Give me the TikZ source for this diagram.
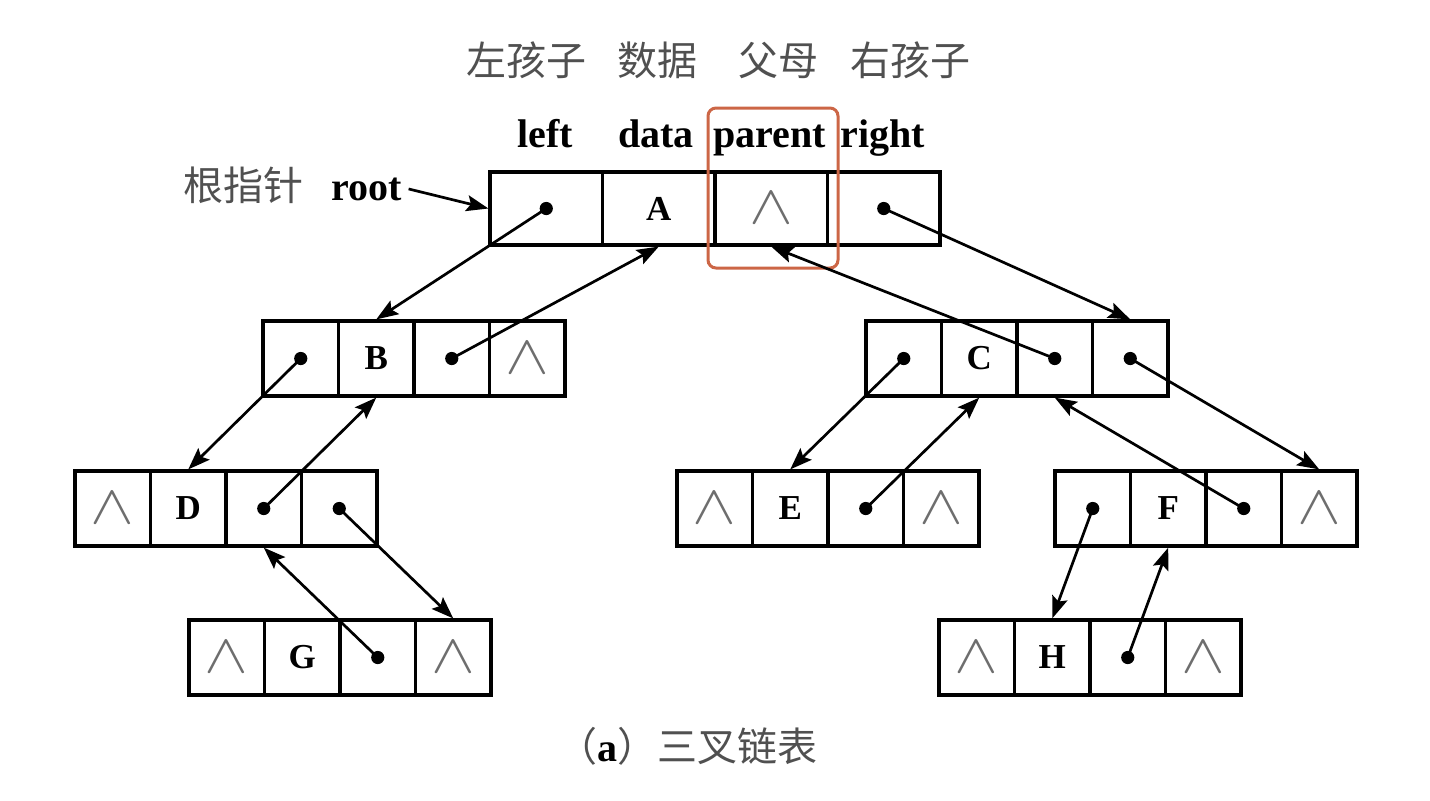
\documentclass[tikz,border=0pt]{standalone}
\usepackage{fontspec}
\usepackage{graphicx}
\setmainfont{Liberation Serif}
\newfontfamily\cjk{Noto Sans CJK SC}
\usetikzlibrary{arrows.meta}
\definecolor{cjkgray}{HTML}{505050}
\definecolor{nilgray}{HTML}{6E6E6E}
\definecolor{hilite}{HTML}{CC6646}
\newcommand\nilsym{\textcolor{nilgray}{\scalebox{1.9}[1.6]{$\wedge$}}}
\newcommand\cellrow[7]{%
  \node[cell] (#1-1) at ({#2+37.75},#3) {#4};
  \node[cell] (#1-2) at ({#2+113.25},#3) {#5};
  \node[cell] (#1-3) at ({#2+188.75},#3) {#6};
  \node[cell] (#1-4) at ({#2+264.25},#3) {#7};
}
\tikzset{
  cell/.style={draw, line width=1.6pt, minimum width=37.75pt, minimum height=37.5pt,
    inner sep=0pt, font=\fontsize{17.5}{18}\selectfont\bfseries},
  bigcell/.style={cell, minimum width=56.25pt, minimum height=36.5pt},
  arr/.style={line width=1.35pt, -{Stealth[length=11pt,width=8pt,inset=2pt]}},
  dotp/.style={fill=black},
  lbl/.style={font=\fontsize{20}{22}\selectfont\bfseries, anchor=base, inner sep=0pt},
  zh/.style={font=\fontsize{20}{22}\selectfont\cjk, text=cjkgray, anchor=base, inner sep=0pt},
  hbox/.style={draw=hilite, line width=1.5pt, rounded corners=4pt}
}
\begin{document}
\begin{tikzpicture}[x=0.5pt,y=-0.5pt]
\useasboundingbox (0,0) rectangle (1430,800);
% headers
\node[zh] (hl) at (526,75) {左孩子};
\node[zh] (hd) at (657,75) {数据};
\node[zh] (hp) at (778,75) {父母};
\node[zh] (hr) at (910,75) {右孩子};
\node[lbl] (ll) at (545,147) {left};
\node[lbl] (ld) at (656,147) {data};
\node[lbl] (lp) at (770,147) {parent};
\node[lbl] (lr) at (883,147) {right};
% root
\node[zh] (rootzh) at (243,200) {根指针};
\node[lbl, inner sep=3pt] (root) at (367,200) {root};
% A row
\node[bigcell] (A-1) at (546.25,208.5) {};
\node[bigcell] (A-2) at (658.75,208.5) {A};
\node[bigcell] (A-3) at (771.25,208.5) {\nilsym};
\node[bigcell] (A-4) at (883.75,208.5) {};
\draw[hbox] (708,108) rectangle (838,268);
% other rows
\cellrow{B}{263}{358.5}{}{B}{}{\nilsym}
\cellrow{C}{866}{358.5}{}{C}{}{}
\cellrow{D}{75}{508.5}{\nilsym}{D}{}{}
\cellrow{E}{677}{508.5}{\nilsym}{E}{}{\nilsym}
\cellrow{F}{1055}{508.5}{}{F}{}{\nilsym}
\cellrow{G}{189}{657.5}{\nilsym}{G}{}{\nilsym}
\cellrow{H}{939}{657.5}{\nilsym}{H}{}{\nilsym}
% pointer dots
\foreach \c in {A-1,A-4,B-1,B-3,C-1,C-3,C-4,D-3,D-4,E-3,F-1,F-3,G-3,H-3}
  \fill[dotp] (\c.center) circle[radius=3.3pt];
% connectors
\draw[arr] (root.east) -- (A-1.west);
\draw[arr] (A-1.center) -- (B-2.north);
\draw[arr] (B-3.center) -- (A-2.south);
\draw[arr] (A-4.center) -- (C-4.north);
\draw[arr] (C-3.center) -- (A-3.south);
\draw[arr] (B-1.center) -- (D-2.north);
\draw[arr] (D-3.center) -- (B-2.south);
\draw[arr] (D-4.center) -- (G-4.north);
\draw[arr] (G-3.center) -- (D-3.south);
\draw[arr] (C-1.center) -- (E-2.north);
\draw[arr] (E-3.center) -- (C-2.south);
\draw[arr] (C-4.center) -- (F-4.north);
\draw[arr] (F-3.center) -- (C-3.south);
\draw[arr] (F-1.center) -- (H-2.north);
\draw[arr] (H-3.center) -- (F-2.south);
% caption
\node[anchor=base west, inner sep=0pt, font=\fontsize{20}{22}\selectfont] (cap) at (557,761)
  {{\cjk\color{cjkgray}（}{\bfseries a}{\cjk\color{cjkgray}）三叉链表}};
\end{tikzpicture}
\end{document}
